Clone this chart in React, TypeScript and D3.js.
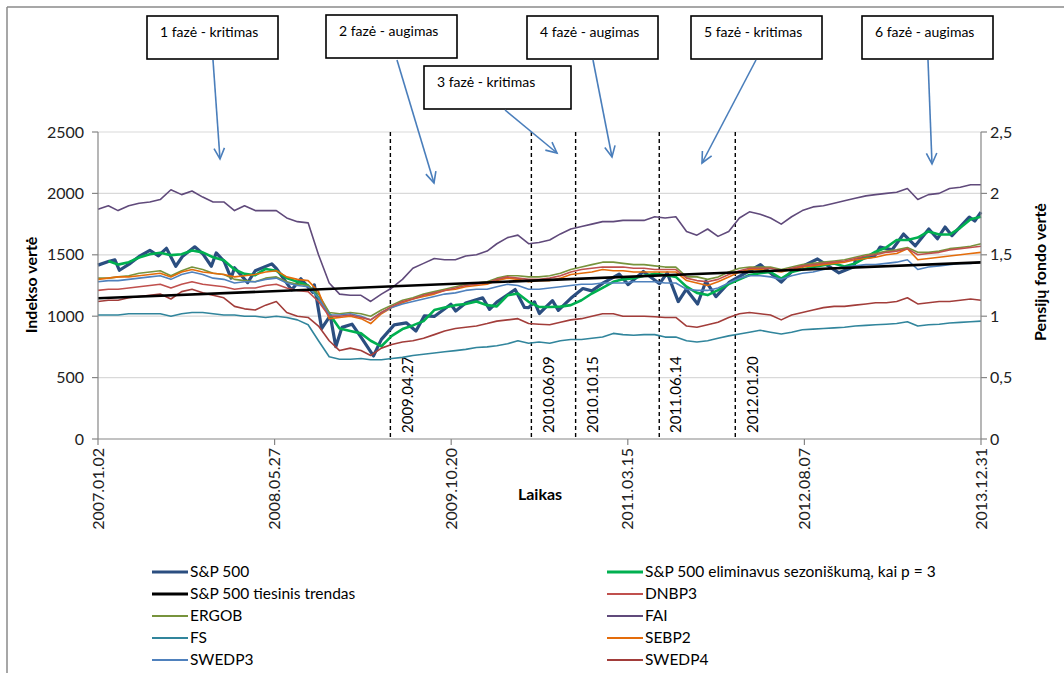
import React from "react";
import * as d3 from "d3";

// ---------- DATA ----------
const parse = d3.timeParse("%Y-%m-%d");

// monthly grid: 2007-01-02, first day of each month Feb 2007..Dec 2013, 2013-12-31
const monthDates: Date[] = [
  new Date(2007, 0, 2),
  ...d3.timeMonth.range(new Date(2007, 1, 1), new Date(2014, 0, 1)),
  new Date(2013, 11, 31),
];

const xTickLabels = ["2007.01.02", "2008.05.27", "2009.10.20", "2011.03.15", "2012.08.07", "2013.12.31"];
const phaseDates = ["2009.04.27", "2010.06.09", "2010.10.15", "2011.06.14", "2012.01.20"];
const phaseLabels = ["1 fazė - kritimas", "2 fazė - augimas", "3 fazė - kritimas", "4 fazė - augimas", "5 fazė - kritimas", "6 fazė - augimas"];
const leftTicks = [0, 500, 1000, 1500, 2000, 2500];
const rightTicks = [0, 0.5, 1, 1.5, 2, 2.5];

const spDates = ["2007-01-02","2007-02-01","2007-02-20","2007-03-05","2007-04-02","2007-05-01","2007-06-01","2007-06-26","2007-07-19","2007-08-15","2007-09-04","2007-10-09","2007-11-01","2007-11-26","2007-12-10","2008-01-02","2008-01-22","2008-02-01","2008-03-10","2008-04-01","2008-05-19","2008-06-02","2008-07-15","2008-08-11","2008-09-15","2008-09-19","2008-10-10","2008-11-04","2008-11-20","2008-12-08","2009-01-06","2009-02-02","2009-03-09","2009-04-01","2009-05-08","2009-06-12","2009-07-10","2009-08-03","2009-09-01","2009-10-19","2009-11-02","2009-12-01","2010-01-19","2010-02-08","2010-03-01","2010-04-23","2010-05-20","2010-06-01","2010-06-18","2010-07-02","2010-08-09","2010-08-26","2010-10-01","2010-11-05","2010-12-01","2011-01-03","2011-02-18","2011-03-16","2011-04-29","2011-06-15","2011-07-07","2011-08-08","2011-08-31","2011-10-03","2011-10-27","2011-11-25","2012-01-03","2012-02-01","2012-04-02","2012-06-01","2012-07-02","2012-09-14","2012-11-15","2012-12-28","2013-01-02","2013-02-25","2013-03-14","2013-04-18","2013-05-21","2013-06-24","2013-08-02","2013-08-27","2013-09-18","2013-10-08","2013-11-27","2013-12-13","2013-12-31"];
const spValues = [1416,1445,1459,1374,1424,1487,1536,1492,1553,1407,1489,1565,1509,1407,1515,1447,1310,1395,1273,1370,1426,1385,1214,1305,1193,1255,899,1005,752,909,935,825,676,811,929,946,879,1002,998,1097,1042,1108,1150,1056,1115,1217,1071,1070,1117,1022,1127,1047,1146,1225,1206,1271,1343,1257,1364,1265,1353,1119,1219,1099,1285,1159,1277,1324,1419,1278,1365,1466,1353,1402,1462,1488,1563,1541,1669,1573,1710,1631,1726,1656,1807,1775,1848];

const spSmoothed = [null,1450,1420,1440,1478,1505,1516,1497,1505,1535,
  1520,1480,1456,1380,1345,1334,1385,1370,1310,1280,
  1250,1150,1020,900,880,860,800,755,840,895,
  925,960,1050,1070,1090,1100,1120,1090,1080,1170,
  1185,1117,1076,1075,1078,1090,1130,1185,1230,1280,
  1300,1310,1330,1345,1335,1320,1240,1190,1172,1212,
  1262,1300,1335,1350,1360,1307,1360,1380,1400,1415,
  1430,1405,1430,1480,1525,1560,1620,1620,1640,1690,
  1665,1665,1720,1790,1810];

const trendDates = ["2007-01-02", "2013-12-31"];
const trendValues = [1146, 1438];

const dnbp3 = [1.21,1.22,1.22,1.23,1.24,1.25,1.26,1.23,1.26,1.28,
  1.26,1.25,1.24,1.22,1.23,1.23,1.25,1.26,1.23,1.21,
  1.20,1.12,1.00,1.00,1.01,0.99,0.97,1.03,1.08,1.12,
  1.14,1.17,1.19,1.21,1.23,1.25,1.26,1.27,1.30,1.32,
  1.31,1.30,1.30,1.31,1.33,1.36,1.38,1.39,1.40,1.40,
  1.40,1.39,1.39,1.38,1.38,1.38,1.31,1.29,1.28,1.30,
  1.34,1.37,1.39,1.39,1.39,1.37,1.39,1.41,1.42,1.43,
  1.44,1.45,1.47,1.49,1.50,1.52,1.53,1.55,1.50,1.51,
  1.52,1.54,1.55,1.56,1.57];

const ergob = [1.31,1.31,1.32,1.33,1.35,1.36,1.37,1.33,1.37,1.40,
  1.38,1.35,1.34,1.30,1.29,1.28,1.31,1.32,1.28,1.26,
  1.25,1.18,1.03,1.02,1.03,1.02,1.00,1.05,1.09,1.13,
  1.15,1.18,1.20,1.22,1.24,1.26,1.27,1.28,1.31,1.33,
  1.33,1.32,1.32,1.33,1.35,1.38,1.40,1.42,1.44,1.44,
  1.43,1.42,1.42,1.41,1.40,1.40,1.32,1.32,1.30,1.32,
  1.36,1.39,1.40,1.40,1.40,1.38,1.40,1.42,1.43,1.44,
  1.45,1.46,1.48,1.50,1.51,1.53,1.54,1.56,1.52,1.52,
  1.53,1.55,1.56,1.57,1.59];

const fai = [1.87,1.90,1.86,1.90,1.92,1.93,1.95,2.03,1.99,2.02,
  1.97,1.93,1.93,1.86,1.90,1.86,1.86,1.86,1.80,1.77,
  1.76,1.50,1.27,1.18,1.17,1.17,1.12,1.18,1.23,1.30,
  1.39,1.43,1.47,1.46,1.46,1.49,1.50,1.53,1.59,1.64,
  1.66,1.59,1.60,1.62,1.67,1.71,1.73,1.75,1.77,1.77,
  1.78,1.78,1.78,1.81,1.80,1.81,1.69,1.66,1.71,1.65,
  1.69,1.80,1.85,1.83,1.80,1.75,1.81,1.86,1.89,1.90,
  1.92,1.94,1.96,1.98,1.99,2.00,2.01,2.04,1.95,1.99,
  2.00,2.04,2.05,2.07,2.07];

const fs = [1.01,1.01,1.01,1.02,1.02,1.02,1.02,1.00,1.02,1.03,
  1.03,1.02,1.01,1.01,1.00,1.00,0.99,1.00,0.99,0.97,
  0.93,0.80,0.67,0.65,0.65,0.655,0.645,0.645,0.655,0.665,
  0.68,0.69,0.70,0.71,0.72,0.73,0.745,0.75,0.76,0.775,
  0.80,0.78,0.79,0.78,0.80,0.81,0.81,0.82,0.83,0.86,
  0.85,0.845,0.85,0.85,0.83,0.83,0.80,0.79,0.80,0.82,
  0.84,0.855,0.87,0.885,0.87,0.855,0.87,0.89,0.895,0.90,
  0.905,0.91,0.92,0.925,0.93,0.935,0.94,0.955,0.92,0.93,
  0.935,0.945,0.95,0.955,0.96];

const sebp2 = [1.30,1.31,1.32,1.32,1.33,1.34,1.35,1.32,1.36,1.38,
  1.36,1.35,1.34,1.32,1.33,1.34,1.36,1.37,1.32,1.30,
  1.29,1.20,0.98,0.99,1.00,0.98,0.94,1.02,1.07,1.11,
  1.14,1.16,1.18,1.21,1.22,1.24,1.25,1.26,1.29,1.31,
  1.30,1.28,1.29,1.29,1.31,1.34,1.35,1.36,1.38,1.37,
  1.37,1.36,1.36,1.36,1.36,1.36,1.29,1.27,1.25,1.28,
  1.32,1.36,1.38,1.38,1.37,1.36,1.38,1.40,1.41,1.42,
  1.43,1.44,1.46,1.47,1.48,1.50,1.51,1.55,1.46,1.47,
  1.48,1.49,1.50,1.51,1.52];

const swedp3 = [1.28,1.29,1.29,1.30,1.31,1.32,1.33,1.30,1.34,1.36,
  1.34,1.31,1.30,1.27,1.28,1.28,1.30,1.31,1.27,1.25,
  1.24,1.15,1.01,1.01,1.02,1.00,0.97,1.03,1.07,1.10,
  1.12,1.14,1.16,1.18,1.19,1.21,1.22,1.22,1.24,1.26,
  1.25,1.22,1.22,1.23,1.24,1.25,1.26,1.26,1.27,1.27,
  1.27,1.28,1.28,1.28,1.27,1.27,1.22,1.21,1.21,1.23,
  1.27,1.31,1.33,1.33,1.32,1.30,1.33,1.35,1.36,1.38,
  1.39,1.40,1.41,1.42,1.42,1.43,1.44,1.46,1.38,1.40,
  1.41,1.42,1.43,1.43,1.44];

const swedp4 = [1.12,1.13,1.13,1.15,1.16,1.17,1.18,1.14,1.20,1.22,
  1.19,1.17,1.15,1.08,1.06,1.05,1.09,1.12,1.03,1.00,
  0.99,0.92,0.80,0.72,0.74,0.72,0.68,0.74,0.77,0.79,
  0.80,0.82,0.85,0.88,0.90,0.91,0.92,0.94,0.96,0.97,
  0.98,0.94,0.935,0.93,0.95,0.97,0.98,1.00,1.02,1.02,
  1.00,1.00,1.00,0.995,0.99,0.99,0.92,0.91,0.93,0.95,
  0.99,1.02,1.03,1.02,1.01,0.97,1.01,1.03,1.05,1.07,
  1.08,1.08,1.09,1.10,1.11,1.11,1.12,1.15,1.10,1.11,
  1.12,1.12,1.13,1.14,1.13];

const legendLabels = ["S&P 500", "S&P 500 eliminavus sezoniškumą, kai p = 3", "S&P 500 tiesinis trendas", "DNBP3", "ERGOB", "FAI", "FS", "SEBP2", "SWEDP3", "SWEDP4"];

// ---------- STYLE / LAYOUT ----------
const W = 1064, H = 673;
const FONT = "Lato, 'Open Sans', sans-serif";
const PL = 98, PR = 981, PT = 132, PB = 439;
const START = new Date(2007, 0, 2), END = new Date(2013, 11, 31);
const C = {
  sp: "#2B4E80", green: "#00B050", trend: "#000000", dnb: "#C0504D", ergo: "#77933C",
  fai: "#604A7B", fs: "#31859C", seb: "#E46C0A", sw3: "#4F81BD", sw4: "#A23D3A",
};
const boxes = [
  { x: 147, y: 16, w: 131 }, { x: 326, y: 15, w: 131 }, { x: 424, y: 66, w: 147 },
  { x: 527, y: 16, w: 131 }, { x: 691, y: 16, w: 131 }, { x: 862, y: 16, w: 131 },
];
const arrows = [
  [213, 60, 220, 159], [397, 60, 434, 183], [505, 110, 557, 153],
  [593, 60, 612, 157], [756, 60, 702, 163], [928, 60, 932, 164],
];

export default function App() {
  const x = d3.scaleTime().domain([START, END]).range([PL, PR]);
  const yL = d3.scaleLinear().domain([0, 2500]).range([PB, PT]);
  const yR = d3.scaleLinear().domain([0, 2.5]).range([PB, PT]);
  const dotParse = d3.timeParse("%Y.%m.%d");

  const lineL = d3.line<[Date, number | null]>().defined((d) => d[1] != null).x((d) => x(d[0])).y((d) => yL(d[1] as number));
  const lineR = d3.line<[Date, number]>().x((d) => x(d[0])).y((d) => yR(d[1]));

  const spPts = spDates.map((d, i) => [parse(d)!, spValues[i]] as [Date, number]);
  const greenPts = monthDates.map((d, i) => [d, spSmoothed[i]] as [Date, number | null]);
  const trendPts = trendDates.map((d, i) => [parse(d)!, trendValues[i]] as [Date, number]);
  const fund = (arr: number[]) => monthDates.map((d, i) => [d, arr[i]] as [Date, number]);

  const series = [
    { label: legendLabels[0], d: lineL(spPts), color: C.sp, w: 3.2 },
    { label: legendLabels[1], d: lineL(greenPts), color: C.green, w: 2.6 },
    { label: legendLabels[2], d: lineL(trendPts), color: C.trend, w: 2.6 },
    { label: legendLabels[3], d: lineR(fund(dnbp3)), color: C.dnb, w: 1.6 },
    { label: legendLabels[4], d: lineR(fund(ergob)), color: C.ergo, w: 1.6 },
    { label: legendLabels[5], d: lineR(fund(fai)), color: C.fai, w: 1.6 },
    { label: legendLabels[6], d: lineR(fund(fs)), color: C.fs, w: 1.6 },
    { label: legendLabels[7], d: lineR(fund(sebp2)), color: C.seb, w: 1.6 },
    { label: legendLabels[8], d: lineR(fund(swedp3)), color: C.sw3, w: 1.6 },
    { label: legendLabels[9], d: lineR(fund(swedp4)), color: C.sw4, w: 1.6 },
  ];
  const drawOrder = [0, 1, 4, 7, 8, 3, 9, 5, 6, 2];

  const legendRowY = [572, 594, 616, 638, 660];
  const axisColor = "#868686";

  return (
    <svg width={W} height={H} style={{ position: "absolute", left: 0, top: 0, background: "#fff" }} fontFamily={FONT}>
      <rect x={0} y={0} width={W} height={H} fill="#fff" />
      {/* chart frame */}
      <line x1={7} y1={7} x2={W} y2={7} stroke="#8a8a8a" strokeWidth={1.5} />
      <line x1={7} y1={7} x2={7} y2={H} stroke="#8a8a8a" strokeWidth={1.5} />

      {/* gridlines */}
      {leftTicks.slice(1).map((t) => (
        <line key={"g" + t} x1={PL} x2={PR} y1={yL(t)} y2={yL(t)} stroke="#d9d9d9" strokeWidth={1.2} />
      ))}

      {/* phase dashed lines */}
      {phaseDates.map((s) => {
        const px = x(dotParse(s)!);
        return (
          <g key={s}>
            <line x1={px} x2={px} y1={PT} y2={PB} stroke="#000" strokeWidth={1.4} strokeDasharray="4,3" />
            <text transform={`translate(${px + 17},${PB - 6}) rotate(-90)`} dy="0.35em" fontSize={15} fill="#000">{s}</text>
          </g>
        );
      })}

      {/* series */}
      {drawOrder.map((i) => (
        <path key={series[i].label} d={series[i].d || ""} fill="none" stroke={series[i].color} strokeWidth={series[i].w} strokeLinejoin="round" />
      ))}

      {/* axes */}
      <line x1={PL} x2={PL} y1={PT} y2={PB} stroke={axisColor} strokeWidth={1.2} />
      <line x1={PR} x2={PR} y1={PT} y2={PB} stroke={axisColor} strokeWidth={1.2} />
      <line x1={PL} x2={PR} y1={PB} y2={PB} stroke={axisColor} strokeWidth={1.2} />
      {leftTicks.map((t) => (
        <g key={"l" + t}>
          <line x1={PL - 6} x2={PL} y1={yL(t)} y2={yL(t)} stroke={axisColor} strokeWidth={1.2} />
          <text x={PL - 14} y={yL(t)} dy="0.35em" textAnchor="end" fontSize={16} fill="#222">{t}</text>
        </g>
      ))}
      {rightTicks.map((t) => (
        <g key={"r" + t}>
          <line x1={PR} x2={PR + 6} y1={yR(t)} y2={yR(t)} stroke={axisColor} strokeWidth={1.2} />
          <text x={PR + 9} y={yR(t)} dy="0.35em" textAnchor="start" fontSize={16} fill="#222">{String(t).replace(".", ",")}</text>
        </g>
      ))}
      {xTickLabels.map((s) => {
        const px = x(dotParse(s)!);
        return (
          <g key={"x" + s}>
            <line x1={px} x2={px} y1={PB} y2={PB + 6} stroke={axisColor} strokeWidth={1.2} />
            <text transform={`translate(${px},${PB + 9}) rotate(-90)`} dy="0.35em" textAnchor="end" fontSize={16} fill="#222">{s}</text>
          </g>
        );
      })}

      {/* axis titles */}
      <text transform={`translate(31,285) rotate(-90)`} textAnchor="middle" dy="0.35em" fontSize={16} fontWeight="bold" fill="#000">Indekso vertė</text>
      <text transform={`translate(1040,272) rotate(-90)`} textAnchor="middle" dy="0.35em" fontSize={16} fontWeight="bold" fill="#000">Pensijų fondo vertė</text>
      <text x={540} y={494} textAnchor="middle" dy="0.35em" fontSize={16} fontWeight="bold" fill="#000">Laikas</text>

      {/* annotation boxes and arrows */}
      {phaseLabels.map((lab, i) => (
        <g key={lab}>
          <rect x={boxes[i].x} y={boxes[i].y} width={boxes[i].w} height={43} fill="#fff" stroke="#000" strokeWidth={1.6} />
          <text x={boxes[i].x + 13} y={boxes[i].y + 16} dy="0.35em" fontSize={14} fill="#000">{lab}</text>
        </g>
      ))}
      {arrows.map(([x1, y1, x2, y2], i) => {
        const a = Math.atan2(y2 - y1, x2 - x1);
        const L = 12, sp = 0.45;
        const h1 = [x2 - L * Math.cos(a - sp), y2 - L * Math.sin(a - sp)];
        const h2 = [x2 - L * Math.cos(a + sp), y2 - L * Math.sin(a + sp)];
        return (
          <g key={"a" + i} stroke="#4A7EBB" strokeWidth={1.6} fill="none">
            <line x1={x1} y1={y1} x2={x2} y2={y2} />
            <polyline points={`${h1[0]},${h1[1]} ${x2},${y2} ${h2[0]},${h2[1]}`} />
          </g>
        );
      })}

      {/* legend */}
      {series.map((s, i) => {
        const col = i % 2, row = Math.floor(i / 2);
        const lx = col === 0 ? 152 : 607;
        const ly = legendRowY[row];
        return (
          <g key={"lg" + i}>
            <line x1={lx} x2={lx + 36} y1={ly} y2={ly} stroke={s.color} strokeWidth={i < 3 ? 3 : 2} />
            <text x={lx + 38} y={ly} dy="0.35em" fontSize={15.5} fill="#000">{s.label}</text>
          </g>
        );
      })}
    </svg>
  );
}
